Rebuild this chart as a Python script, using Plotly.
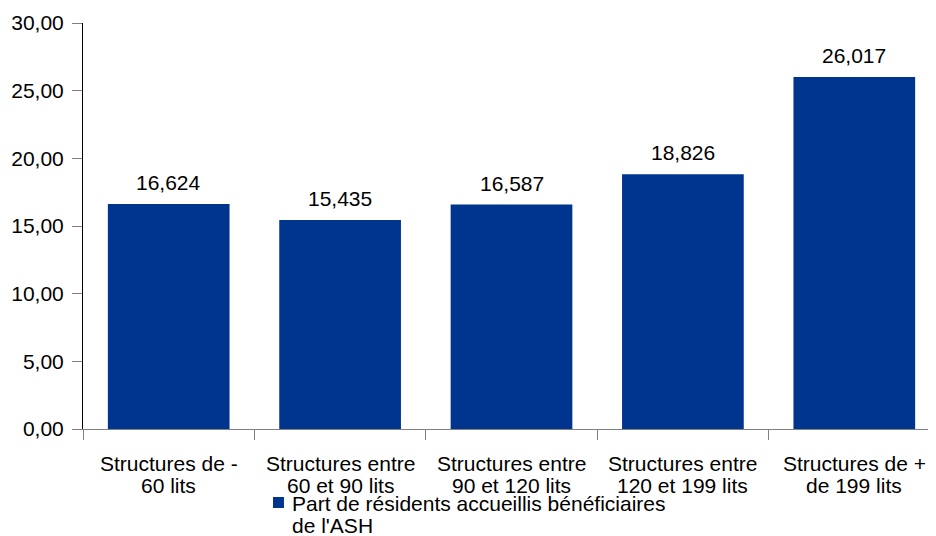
import plotly.graph_objects as go

categories = [
    ["Structures de -", "60 lits"],
    ["Structures entre", "60 et 90 lits"],
    ["Structures entre", "90 et 120 lits"],
    ["Structures entre", "120 et 199 lits"],
    ["Structures de +", "de 199 lits"],
]
values = [16.624, 15.435, 16.587, 18.826, 26.017]
series_name = ["Part de résidents accueillis bénéficiaires", "de l'ASH"]
y_ticks = [0, 5, 10, 15, 20, 25, 30]

FONT = "Liberation Sans, Arial, sans-serif"
BAR = "#00358F"
FS = 21
TXT = dict(family=FONT, size=FS, color="#000000")

fig = go.Figure()
fig.add_trace(go.Bar(
    x=list(range(len(categories))),
    y=values,
    name=" ".join(series_name),
    marker=dict(color=BAR, line=dict(width=0)),
    showlegend=False,
))

# value labels above bars
for i, v in enumerate(values):
    fig.add_annotation(
        x=i, y=v, text=f"{v:.3f}".replace(".", ","),
        showarrow=False, yanchor="bottom", yshift=8, font=TXT,
    )

# category labels under the axis (two lines each)
for i, lines in enumerate(categories):
    for k, line in enumerate(lines):
        fig.add_annotation(
            x=i, y=0, yref="y", text=line, showarrow=False,
            yanchor="middle", yshift=-34 - 22 * k, font=TXT, borderpad=0,
        )

# legend (symbol + two text lines)
fig.add_shape(
    type="rect", xref="paper", yref="paper",
    x0=0.2217, x1=0.2345, y0=-0.1946, y1=-0.1675,
    fillcolor=BAR, line=dict(width=0),
)
for k, line in enumerate(series_name):
    fig.add_annotation(
        xref="paper", yref="paper", x=0.243, y=-0.1847 - 0.0542 * k,
        text=line, showarrow=False, xanchor="left", yanchor="middle",
        font=TXT, borderpad=0,
    )

fig.update_layout(
    width=936, height=536,
    margin=dict(l=75, r=4, t=15, b=115),
    paper_bgcolor="white", plot_bgcolor="white",
    font=TXT,
    separators=",.",
    bargap=0.29,
    showlegend=False,
)

fig.update_xaxes(
    type="linear",
    range=[-0.5, 4.5],
    tickmode="array",
    tickvals=[-0.5, 0.5, 1.5, 2.5, 3.5, 4.5],
    ticktext=["", "", "", "", "", ""],
    ticks="outside", ticklen=10, tickcolor="#808080", tickwidth=1,
    showline=True, linecolor="#808080", linewidth=1,
    showgrid=False, zeroline=False, automargin=False,
)

fig.update_yaxes(
    range=[0, 30],
    tickmode="array", tickvals=y_ticks, tickformat=".2f",
    ticks="outside", ticklen=10, tickcolor="#808080", tickwidth=1,
    showline=True, linecolor="#000000", linewidth=1,
    showgrid=False, zeroline=False, automargin=False,
    ticklabelstandoff=4,
)

fig.write_html("out.html")
